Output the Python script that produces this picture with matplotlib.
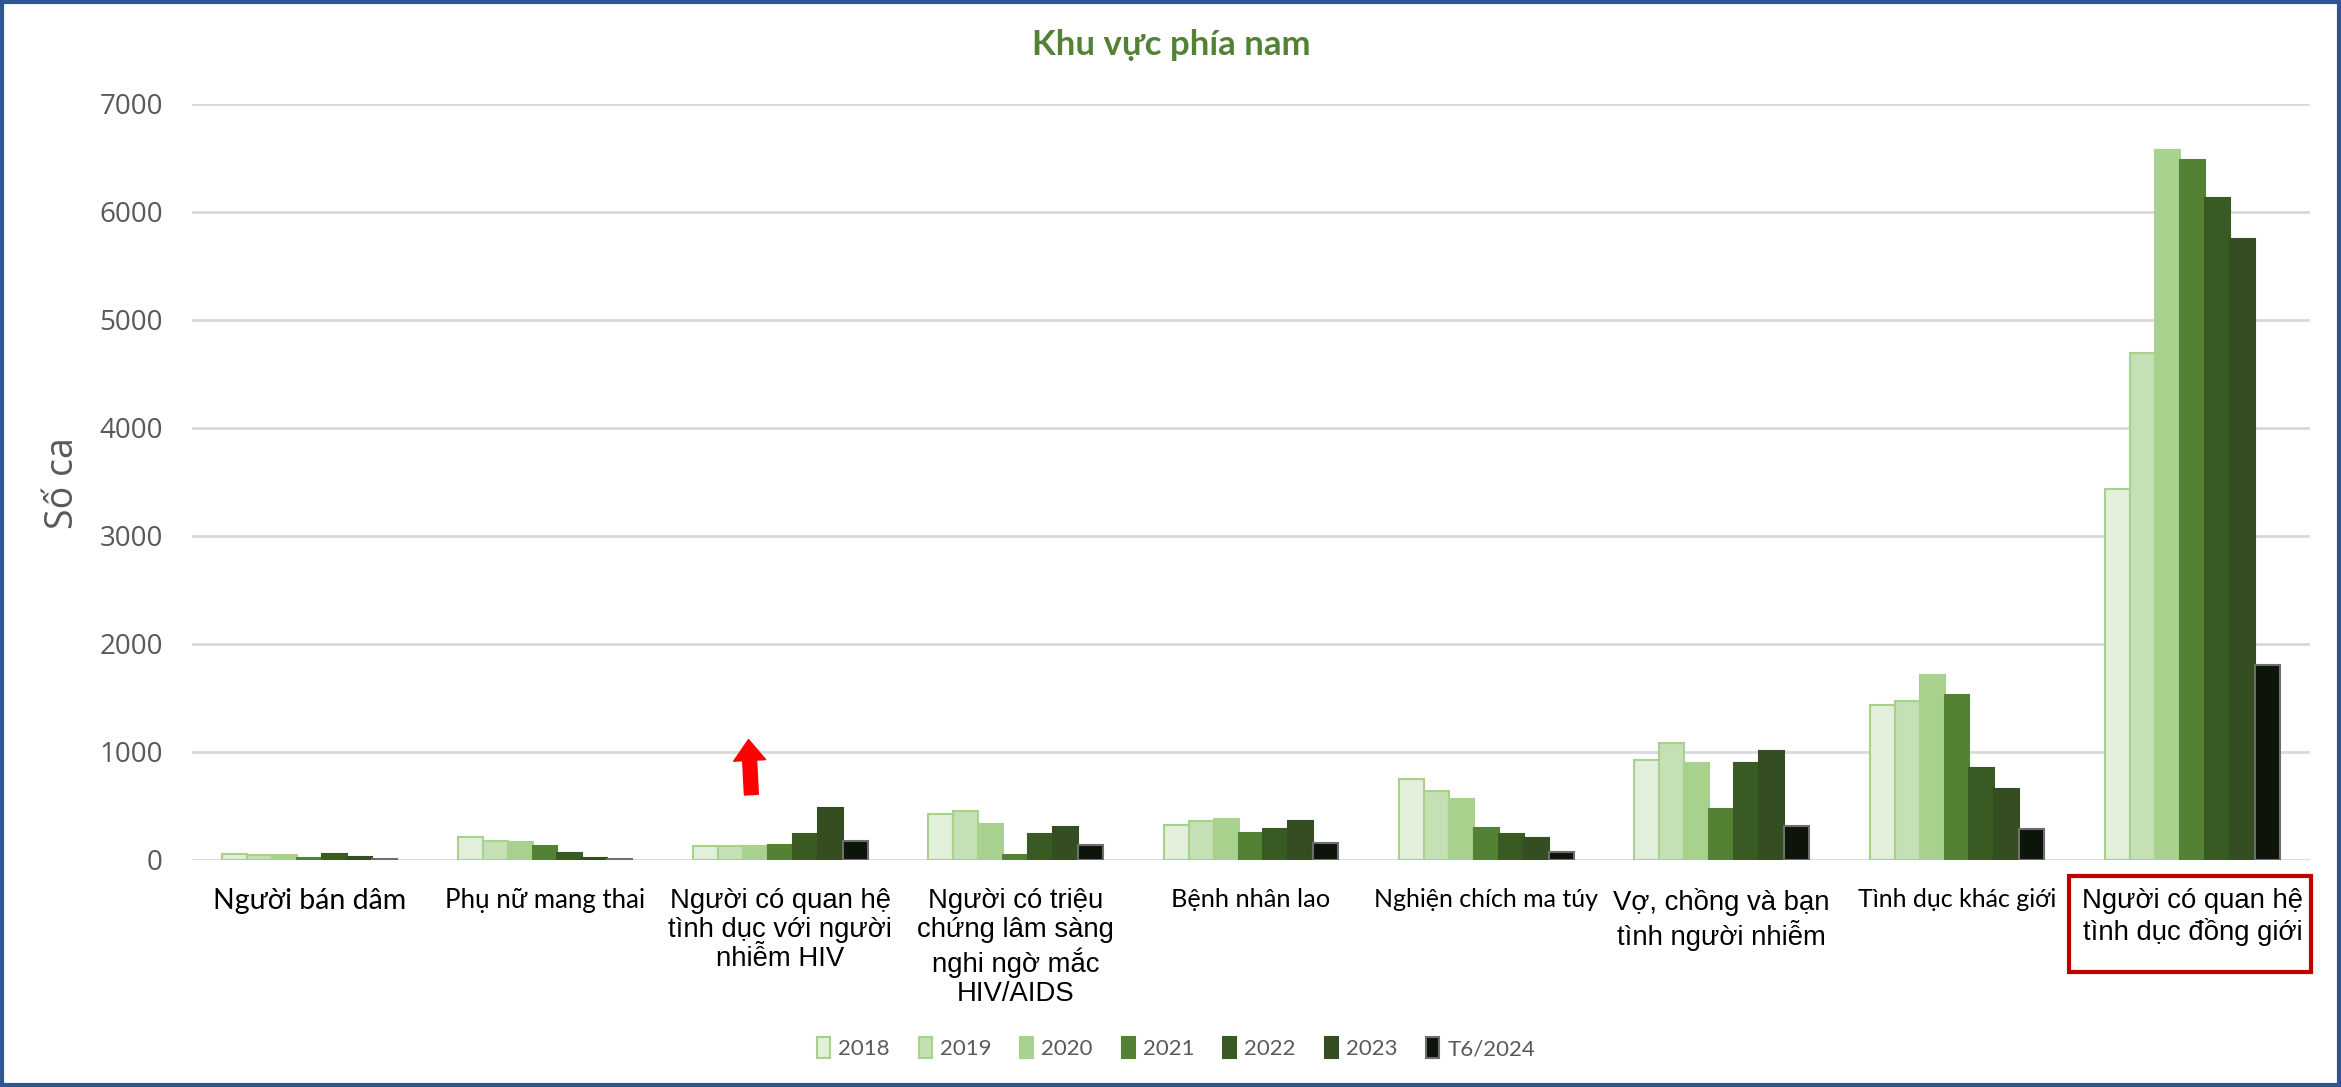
import numpy as np
import matplotlib.pyplot as plt
from matplotlib.patches import Rectangle
from matplotlib import transforms

### categories and series
categories = ["Người bán dâm",
              "Phụ nữ mang thai",
              "Người có quan hệ\ntình dục với người\nnhiễm HIV",
              "Người có triệu\nchứng lâm sàng\nnghi ngờ mắc\nHIV/AIDS",
              "Bệnh nhân lao",
              "Nghiện chích ma túy",
              "Vợ, chồng và bạn\ntình người nhiễm",
              "Tình dục khác giới",
              "Người có quan hệ\ntình dục đồng giới"]

years = ["2018", "2019", "2020", "2021", "2022", "2023", "T6/2024"]

y2018 = [52, 213, 130, 429, 324, 753, 930, 1437, 3434]
y2019 = [43, 173, 127, 454, 361, 636, 1085, 1468, 4690]
y2020 = [43, 170, 133, 330, 380, 565, 900, 1712, 6575]
y2021 = [18, 127, 142, 49, 253, 296, 470, 1527, 6486]
y2022 = [52, 68, 244, 238, 284, 241, 896, 850, 6131]
y2023 = [28, 15, 478, 302, 358, 201, 1011, 661, 5753]
yT6 = [6, 9, 173, 136, 154, 71, 312, 284, 1809]

series = [y2018, y2019, y2020, y2021, y2022, y2023, yT6]

fills = ["#E2EFDA", "#C5E0B4", "#A9D18E", "#548235", "#3A5A23", "#344E21", "#0D1409"]
edges = ["#A9D18E", "#A9D18E", "#A9D18E", "#548235", "#3A5A23", "#344E21", "#6E6E6E"]

# label fonts (the source mixes Calibri-ish and Arial labels)
lab_fonts = ["Lato", "Lato", "Liberation Sans", "Liberation Sans", "Lato",
             "Lato", "Liberation Sans", "Lato", "Liberation Sans"]
lab_sizes = [20.5, 18.6, 19.8, 19.8, 18.3, 18, 19.8, 18, 19.8]

W, H = 2341, 1087
fig = plt.figure(figsize=(W / 100, H / 100), dpi=100)
ax = fig.add_axes([192 / W, 1 - 860 / H, (2310 - 192) / W, (860 - 104) / H])

x = np.arange(len(categories))
bw = 0.106
for i, vals in enumerate(series):
    ax.bar(x + (i - 3) * bw, vals, bw, color=fills[i], edgecolor=edges[i],
           linewidth=1.5, label=years[i], zorder=3)

ax.set_xlim(-0.5, len(categories) - 0.5)
ax.set_ylim(0, 7000)
ax.set_yticks(range(0, 7001, 1000))
ax.yaxis.grid(True, color="#D9D9D9", linewidth=2, zorder=0)
ax.set_axisbelow(True)
for s in ax.spines.values():
    s.set_visible(False)

ax.tick_params(axis="y", length=0, pad=21, labelsize=20, labelcolor="#595959")
for t in ax.get_yticklabels():
    t.set_fontfamily("Open Sans")

### category labels, drawn as text so each can have its own font
ax.set_xticks(x)
ax.set_xticklabels([])
ax.tick_params(axis="x", length=0)
base = transforms.blended_transform_factory(ax.transData, ax.transAxes)
for xi, lab, f, s in zip(x, categories, lab_fonts, lab_sizes):
    drop = 20.5 if f == "Lato" else 20.5   # points below the axis
    tr = transforms.offset_copy(base, fig=fig, y=-drop, units="points")
    ax.text(xi, 0, lab, transform=tr, ha="center", va="top", family=f,
            fontsize=s, color="black", linespacing=1.15, multialignment="center")

### title and axis label
fig.text(1171 / W, 1 - 45 / H, "Khu vực phía nam", ha="center", va="center",
         fontsize=25, fontweight="bold", color="#548235", family="Lato")
fig.text(63 / W, 1 - 483 / H, "Số ca", rotation=90, ha="center", va="center",
         fontsize=27, color="#595959", family="Open Sans")

### red arrow over group 3
ax.annotate("", xy=(1.865, 1115), xytext=(1.877, 605),
            arrowprops=dict(arrowstyle="simple,head_length=0.75,head_width=1.15,tail_width=0.5",
                            color="#FF0000", mutation_scale=20, shrinkA=0, shrinkB=0),
            zorder=5)

### red box around the last label
fig.patches.append(Rectangle((2069 / W, 1 - 972 / H), (2311 - 2069) / W, (972 - 876) / H,
                             transform=fig.transFigure, fill=False,
                             edgecolor="#C00000", linewidth=3))

### legend
leg = fig.legend(loc="center", bbox_to_anchor=(1176 / W, 1 - 1048 / H), ncol=7,
                 frameon=False, handlelength=0.6, handleheight=1.1,
                 handletextpad=0.35, columnspacing=1.3,
                 prop={"family": "Lato", "size": 16})
for t in leg.get_texts():
    t.set_color("#595959")

### outer frame
fig.patches.append(Rectangle((0.001, 0.002), 0.998, 0.996, transform=fig.transFigure,
                             fill=False, edgecolor="#2F5597", linewidth=3))

fig.savefig("out.png", dpi=100)
